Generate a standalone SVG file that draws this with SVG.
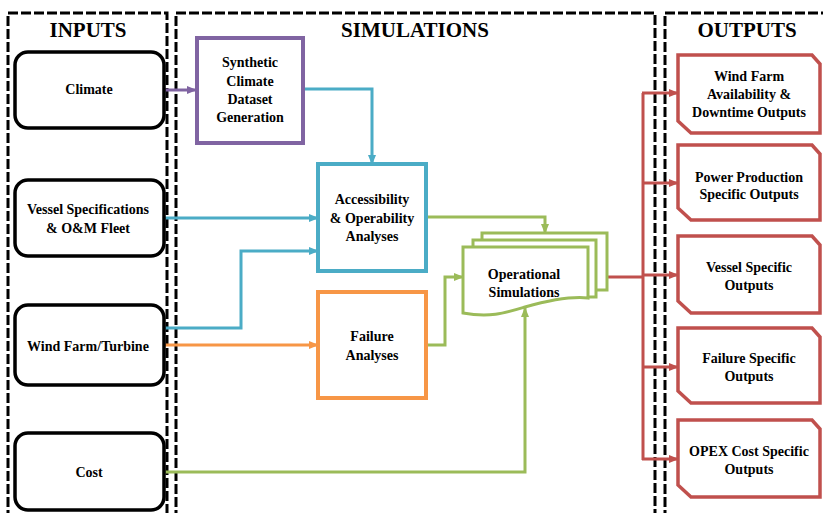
<svg xmlns="http://www.w3.org/2000/svg" width="823" height="513" viewBox="0 0 823 513">
<defs>
<style>
.panel{fill:none;stroke:#000;stroke-width:3;stroke-dasharray:10 3}
.title{font-family:"Liberation Serif",serif;font-weight:bold;font-size:21px;text-anchor:middle;fill:#000}
.t{font-family:"Liberation Serif",serif;font-weight:bold;font-size:14px;text-anchor:middle;fill:#000}
.inp{fill:#fff;stroke:#000;stroke-width:3.5}
.c{fill:none;stroke-width:3}
.out{fill:#fff;stroke:#C0504D;stroke-width:3.5}
</style>
<marker id="aP" markerUnits="userSpaceOnUse" markerWidth="10" markerHeight="10" refX="9" refY="5" orient="auto"><path d="M0,1 L10,5 L0,9 Z" fill="#8064A2"/></marker>
<marker id="aB" markerUnits="userSpaceOnUse" markerWidth="10" markerHeight="10" refX="9" refY="5" orient="auto"><path d="M0,1 L10,5 L0,9 Z" fill="#4BACC6"/></marker>
<marker id="aO" markerUnits="userSpaceOnUse" markerWidth="10" markerHeight="10" refX="9" refY="5" orient="auto"><path d="M0,1 L10,5 L0,9 Z" fill="#F79646"/></marker>
<marker id="aG" markerUnits="userSpaceOnUse" markerWidth="10" markerHeight="10" refX="9" refY="5" orient="auto"><path d="M0,1 L10,5 L0,9 Z" fill="#9BBB59"/></marker>
<marker id="aR" markerUnits="userSpaceOnUse" markerWidth="10" markerHeight="10" refX="9" refY="5" orient="auto"><path d="M0,1 L10,5 L0,9 Z" fill="#C0504D"/></marker>
</defs>
<rect width="823" height="513" fill="#fff"/>

<g id="panels">
<path class="panel" d="M8,520 V13 H167 V520"/>
<path class="panel" d="M176,520 V13 H655 V520"/>
<path class="panel" d="M665,520 V13 H830"/>
<text class="title" x="88" y="37">INPUTS</text>
<text class="title" x="415" y="37">SIMULATIONS</text>
<text class="title" x="747" y="37">OUTPUTS</text>
</g>

<g id="connectors">
<path class="c" stroke="#8064A2" d="M165,90 H196" marker-end="url(#aP)"/>
<path class="c" stroke="#4BACC6" d="M303,89 H372 V164" marker-end="url(#aB)"/>
<path class="c" stroke="#4BACC6" d="M165,218 H318" marker-end="url(#aB)"/>
<path class="c" stroke="#4BACC6" d="M165,328 H241 V251 H318" marker-end="url(#aB)"/>
<path class="c" stroke="#F79646" d="M165,345 H318" marker-end="url(#aO)"/>
<path class="c" stroke="#9BBB59" d="M426,217 H545 V233" marker-end="url(#aG)"/>
<path class="c" stroke="#9BBB59" d="M426,345 H445 V277 H463" marker-end="url(#aG)"/>
<path class="c" stroke="#9BBB59" d="M165,472 H525 V308" marker-end="url(#aG)"/>
<path class="c" stroke="#C0504D" d="M607,277 H643"/>
<path class="c" stroke="#C0504D" d="M643,93 V460"/>
<path class="c" stroke="#C0504D" d="M642,93 H678" marker-end="url(#aR)"/>
<path class="c" stroke="#C0504D" d="M642,183 H678" marker-end="url(#aR)"/>
<path class="c" stroke="#C0504D" d="M642,275 H678" marker-end="url(#aR)"/>
<path class="c" stroke="#C0504D" d="M642,367 H678" marker-end="url(#aR)"/>
<path class="c" stroke="#C0504D" d="M642,459 H678" marker-end="url(#aR)"/>
</g>

<g id="climate">
<rect class="inp" x="15" y="52" width="149" height="76" rx="13"/>
<text class="t" x="89" y="94">Climate</text>
</g>
<g id="vessel">
<rect class="inp" x="15" y="180" width="149" height="76" rx="13"/>
<text class="t" x="88" y="214">Vessel Specifications</text>
<text class="t" x="88" y="233">&amp; O&amp;M Fleet</text>
</g>
<g id="windfarm">
<rect class="inp" x="15" y="305" width="149" height="80" rx="13"/>
<text class="t" x="88" y="351">Wind Farm/Turbine</text>
</g>
<g id="cost">
<rect class="inp" x="15" y="433" width="149" height="77" rx="13"/>
<text class="t" x="89" y="477">Cost</text>
</g>

<g id="synthetic">
<rect x="197" y="38" width="106" height="105" fill="#fff" stroke="#8064A2" stroke-width="4"/>
<text class="t" x="250" y="67">Synthetic</text>
<text class="t" x="250" y="86">Climate</text>
<text class="t" x="250" y="104">Dataset</text>
<text class="t" x="250" y="122">Generation</text>
</g>
<g id="accessibility">
<rect x="318" y="164" width="108" height="107" fill="#fff" stroke="#4BACC6" stroke-width="4"/>
<text class="t" x="372" y="204">Accessibility</text>
<text class="t" x="372" y="223">&amp; Operability</text>
<text class="t" x="372" y="241">Analyses</text>
</g>
<g id="failure">
<rect x="318" y="292" width="108" height="106" fill="#fff" stroke="#F79646" stroke-width="4"/>
<text class="t" x="372" y="341">Failure</text>
<text class="t" x="372" y="360">Analyses</text>
</g>
<g id="operational" fill="none" stroke="#9BBB59" stroke-width="3">
<path d="M482,240 V233 H607 V290 H596" />
<path d="M473,247 V240 H596 V297 H588" />
<path d="M463,247 H588 V298 C570,296 550,300 525,307 C505,313 490,318 463,313 Z" fill="#fff"/>
<text class="t" x="524" y="279" stroke="none">Operational</text>
<text class="t" x="524" y="297" stroke="none">Simulations</text>
</g>

<g id="out1">
<path class="out" d="M678,55 H812 L820,64 V133 H691 L678,121 Z"/>
<text class="t" x="749" y="81">Wind Farm</text>
<text class="t" x="749" y="99">Availability &amp;</text>
<text class="t" x="749" y="117">Downtime Outputs</text>
</g>
<g id="out2">
<path class="out" d="M678,145 H812 L820,154 V220 H691 L678,208 Z"/>
<text class="t" x="749" y="182">Power Production</text>
<text class="t" x="749" y="199">Specific Outputs</text>
</g>
<g id="out3">
<path class="out" d="M678,236 H812 L820,245 V313 H691 L678,301 Z"/>
<text class="t" x="749" y="272">Vessel Specific</text>
<text class="t" x="749" y="290">Outputs</text>
</g>
<g id="out4">
<path class="out" d="M678,328 H812 L820,337 V403 H691 L678,391 Z"/>
<text class="t" x="749" y="363">Failure Specific</text>
<text class="t" x="749" y="381">Outputs</text>
</g>
<g id="out5">
<path class="out" d="M678,420 H812 L820,429 V497 H691 L678,485 Z"/>
<text class="t" x="749" y="456">OPEX Cost Specific</text>
<text class="t" x="749" y="474">Outputs</text>
</g>
</svg>
